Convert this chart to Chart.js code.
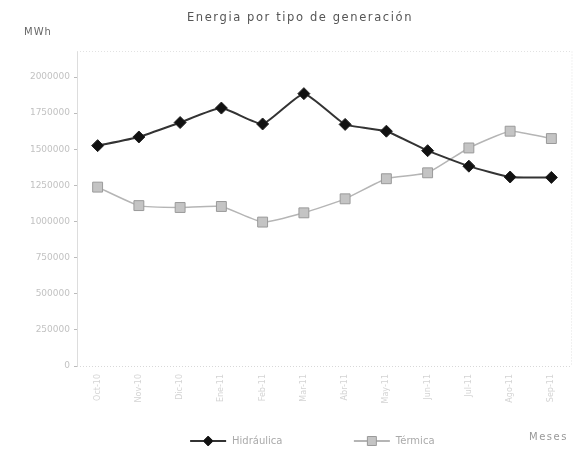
<!DOCTYPE html>
<html>
<head>
<meta charset="utf-8">
<script src="https://cdn.jsdelivr.net/npm/chart.js@4/dist/chart.umd.min.js"></script>
<style>
  html, body { margin: 0; padding: 0; background: #fff; }
  canvas { display: block; }
</style>
</head>
<body>
<canvas id="chart" width="581" height="449"></canvas>
<script>
// data
const months = ['Oct-10', 'Nov-10', 'Dic-10', 'Ene-11', 'Feb-11', 'Mar-11', 'Abr-11', 'May-11', 'Jun-11', 'Jul-11', 'Ago-11', 'Sep-11'];
const hidraulica = [1525000, 1585000, 1685000, 1785000, 1675000, 1885000, 1672000, 1625000, 1490000, 1383000, 1308000, 1305000];
const termica = [1238000, 1110000, 1097000, 1104000, 996000, 1060000, 1157000, 1296000, 1337000, 1509000, 1625000, 1574000];
const yTicks = [0, 250000, 500000, 750000, 1000000, 1250000, 1500000, 1750000, 2000000];

const FONT = 'DejaVu Sans';

// little line+marker images for the legend
function legendIcon(lineColor, fill, stroke, style) {
  const c = document.createElement('canvas');
  c.width = 38;
  c.height = 12;
  const ctx = c.getContext('2d');
  ctx.strokeStyle = lineColor;
  ctx.lineWidth = 2;
  ctx.beginPath();
  ctx.moveTo(1, 6);
  ctx.lineTo(37, 6);
  ctx.stroke();
  ctx.fillStyle = fill;
  ctx.strokeStyle = stroke;
  ctx.lineWidth = 1;
  ctx.beginPath();
  if (style === 'diamond') {
    ctx.moveTo(19, 1);
    ctx.lineTo(24, 6);
    ctx.lineTo(19, 11);
    ctx.lineTo(14, 6);
    ctx.closePath();
  } else {
    ctx.rect(14.5, 1.5, 9, 9);
  }
  ctx.fill();
  ctx.stroke();
  return c;
}

const extraText = {
  id: 'extraText',
  afterDraw(chart) {
    const ctx = chart.ctx;
    ctx.save();
    ctx.textBaseline = 'middle';
    ctx.letterSpacing = '1.6px';
    ctx.font = '11.5px "' + FONT + '"';
    ctx.fillStyle = '#555';
    ctx.textAlign = 'center';
    ctx.fillText('Energia por tipo de generación', 300, 18);
    ctx.letterSpacing = '1px';
    ctx.font = '10px "' + FONT + '"';
    ctx.fillStyle = '#666';
    ctx.textAlign = 'left';
    ctx.fillText('MWh', 24, 32);
    ctx.letterSpacing = '1.5px';
    ctx.fillStyle = '#999';
    ctx.fillText('Meses', 529, 437);
    ctx.restore();
  }
};

new Chart(document.getElementById('chart').getContext('2d'), {
  type: 'line',
  data: {
    labels: months,
    datasets: [
      {
        label: 'Hidráulica',
        data: hidraulica,
        borderColor: '#333',
        borderWidth: 2,
        pointStyle: 'rectRot',
        pointRadius: 6,
        pointBackgroundColor: '#111',
        pointBorderColor: '#222',
        pointBorderWidth: 1,
        tension: 0.15,
      },
      {
        label: 'Térmica',
        data: termica,
        borderColor: '#b5b5b5',
        borderWidth: 1.5,
        pointStyle: 'rect',
        pointRadius: 7,
        pointBackgroundColor: '#c4c4c4',
        pointBorderColor: '#9a9a9a',
        pointBorderWidth: 1,
        tension: 0.15,
      },
    ],
  },
  options: {
    responsive: false,
    animation: false,
    layout: { padding: { top: 51, right: 9, left: 4, bottom: -7 } },
    plugins: {
      title: { display: false },
      tooltip: { enabled: false },
      legend: {
        position: 'bottom',
        fullSize: false,
        labels: {
          usePointStyle: true,
          pointStyleWidth: 38,
          boxHeight: 12,
          padding: 10,
          color: '#aaa',
          font: { family: FONT, size: 10 },
          generateLabels: (chart) => [
            // trailing spaces set the gap and the centring of the two entries
            { text: 'Hidráulica' + ' '.repeat(19), pointStyle: legendIcon('#333', '#111', '#222', 'diamond'), datasetIndex: 0, fontColor: '#aaa', lineWidth: 0 },
            { text: 'Térmica' + ' '.repeat(8), pointStyle: legendIcon('#b5b5b5', '#c4c4c4', '#9a9a9a', 'square'), datasetIndex: 1, fontColor: '#aaa', lineWidth: 0 },
          ],
        },
      },
    },
    scales: {
      x: {
        offset: true,
        afterFit: (s) => { s.height = 60; },
        grid: { display: false, drawTicks: false },
        border: { display: false },
        ticks: {
          minRotation: 90,
          maxRotation: 90,
          padding: 8,
          color: '#d4d4d4',
          font: { family: FONT, size: 8 },
        },
      },
      y: {
        min: 0,
        max: 2180000,
        afterFit: (s) => { s.width = 73; },
        afterBuildTicks: (s) => { s.ticks = yTicks.map((v) => ({ value: v })); },
        grid: { drawOnChartArea: false, tickLength: 3, color: '#bbb' },
        border: { display: true, color: '#ddd', dash: [1, 2] },
        ticks: {
          padding: 4,
          color: '#c2c2c2',
          font: { family: FONT, size: 9 },
          callback: (v) => String(v),
        },
      },
    },
  },
  plugins: [
    extraText,
    {
      id: 'frame',
      beforeDatasetsDraw(chart) {
        const { ctx, chartArea: a } = chart;
        ctx.save();
        ctx.strokeStyle = '#e2e2e2';
        ctx.setLineDash([1, 2]);
        ctx.lineWidth = 1;
        ctx.beginPath();
        ctx.moveTo(a.left, a.top + 0.5);
        ctx.lineTo(a.right, a.top + 0.5);
        ctx.lineTo(a.right - 0.5, a.bottom);
        ctx.stroke();
        ctx.strokeStyle = '#d8d8d8';
        ctx.beginPath();
        ctx.moveTo(a.left, a.bottom + 0.5);
        ctx.lineTo(a.right, a.bottom + 0.5);
        ctx.stroke();
        ctx.restore();
      },
    },
  ],
});
</script>
</body>
</html>
